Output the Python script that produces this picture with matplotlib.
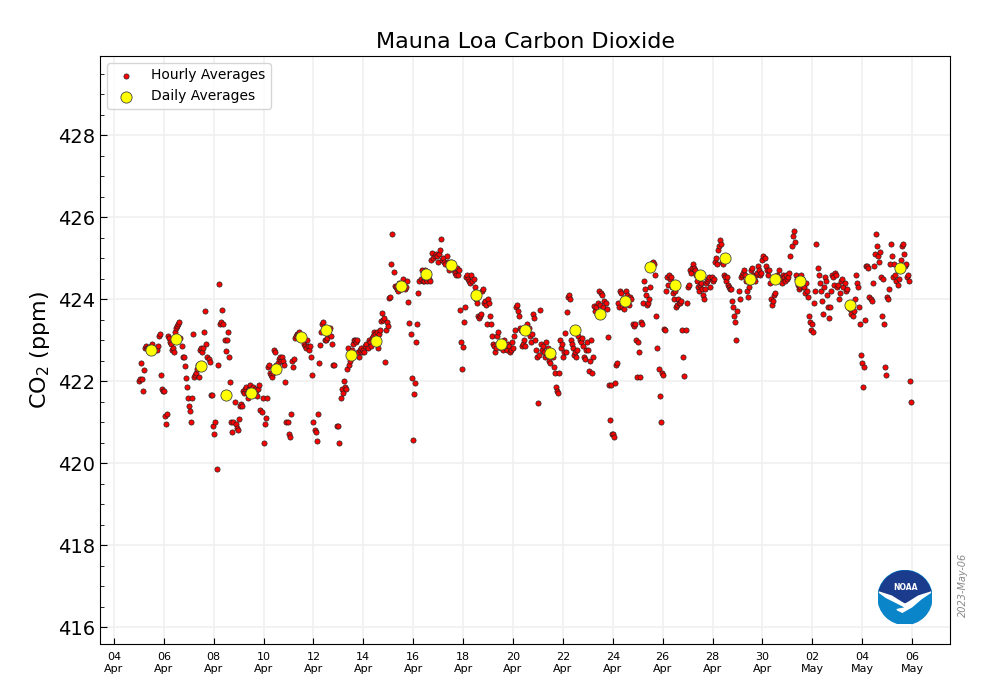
import numpy as np
import matplotlib
matplotlib.use("Agg")
import matplotlib.pyplot as plt
import matplotlib.dates as mdates
from matplotlib.patches import Circle, Polygon
from datetime import datetime, timedelta

nan = np.nan
# ---- Hourly averages (ppm), hour 0..23 of each day ----
apr05 = [422.0, 422.05, 422.44, 422.05, 421.75, 422.27, 422.8, 422.85, 422.8, 422.8, 422.8, 422.8,
         422.85, 422.9, 422.8, 422.75, 422.8, 422.75, 422.85, 423.1, 423.15, 422.15, 421.8, 421.75]
apr06 = [421.75, 421.15, 420.95, 421.2, 423.1, 423.05, 422.95, 422.9, 422.75, 422.8, 422.7, 423.2,
         423.3, 423.35, 423.4, 423.45, 423.05, 422.85, 422.6, 422.6, 422.37, 422.07, 421.85, 421.6]
apr07 = [421.4, 421.27, 421.0, 421.6, 423.15, 422.1, 422.15, 422.2, 422.3, 422.4, 422.1, 422.75,
         422.8, 422.7, 422.8, 423.2, 423.7, 422.9, 422.6, 422.55, 422.46, 421.66, 421.66, 420.9]
apr08 = [420.7, 421.0, nan, 419.85, 422.4, 424.38, 423.4, 423.45, 423.73, 423.4, nan, 423.0,
         422.73, 423.0, 423.2, 422.6, 421.98, 421.0, 420.75, 421.0, 421.5, 420.95, 420.85, 420.8]
apr09 = [421.07, 421.4, 421.45, 421.4, 421.75, 421.7, 421.8, 421.85, 421.7, 421.6, 421.8, 421.9,
         421.75, 421.8, 421.85, 421.75, 421.8, 421.75, 421.65, 421.8, 421.9, 421.3, 421.25, 421.6]
apr10 = [420.48, 420.95, 421.1, 421.6, 422.35, 422.4, 422.2, 422.15, 422.1, 422.2, 422.75, 422.7,
         422.4, 422.3, 422.45, 422.55, 422.6, 422.5, 422.6, 422.5, 422.4, 421.98, 421.0, 421.0]
apr11 = [420.7, 420.65, 421.2, 422.5, 422.35, 422.55, 423.05, 423.1, 423.15, 423.15, 423.2, 423.05,
         423.1, 423.1, 423.0, 422.9, 422.85, 422.8, 423.0, 422.85, 422.75, 422.85, 422.6, 422.15]
apr12 = [421.0, 420.8, 420.75, 420.55, 421.2, 422.44, 422.88, 423.2, 423.4, 423.45, 423.3, 423.0,
         423.0, 423.05, 423.15, 423.25, 423.3, 423.1, 422.9, 422.4, 422.4, nan, nan, 420.9]
apr13 = [420.9, 420.5, 421.6, 421.8, 421.7, 422.0, 421.85, 421.8, 422.3, 422.8, 422.4, 422.5,
         422.6, 422.75, 422.9, 423.0, 423.0, 422.95, 423.0, 422.7, 422.6, 422.75, 422.8, 422.7]
apr14 = [422.75, 422.7, 422.85, 422.9, 422.8, 423.0, 422.95, 422.85, 423.05, 423.1, 423.2, 423.15,
         422.95, 423.2, 422.8, 423.15, 423.25, 423.47, 423.66, 423.5, 423.53, 422.47, 423.25, 423.44]
apr15 = [423.34, 424.02, 424.05, 424.85, 425.58, 424.66, 424.32, 424.3, 424.25, 424.2, 424.4, 424.35,
         424.25, 424.3, 424.5, 424.4, 424.25, 424.3, 424.45, 423.93, 423.41, nan, 423.15, 422.07]
apr16 = [420.56, 421.68, 421.95, 422.95, 423.4, 424.14, 424.45, 424.5, 424.7, 424.45, 424.45, 424.7,
         424.5, 424.45, 424.65, 424.5, 424.45, 424.95, 425.12, 425.0, nan, 425.05, 425.1, 425.05]
apr17 = [424.9, 425.1, 425.2, 425.46, 424.95, 425.0, 424.9, 424.85, 425.05, 424.9, 424.7, 424.8,
         424.9, 424.85, 424.75, 424.7, 424.65, 424.6, 424.75, 424.6, 424.7, 423.73, 422.95, 422.29]
apr18 = [422.83, 423.44, 423.8, 424.55, 424.6, 424.5, 424.45, 424.4, 424.6, 424.45, 424.5, 424.3,
         424.0, 423.9, 423.6, 423.55, 423.6, 423.65, 424.2, 424.25, 423.9, 423.95, 423.85, 423.4]
apr19 = [424.0, 423.9, 423.6, 423.4, 423.1, 422.9, 422.85, 422.7, 422.8, 423.1, 423.2, 422.9,
         422.8, 422.85, 422.75, 423.0, 422.9, 422.8, 422.75, 422.9, 422.85, 422.7, 422.75, 422.95]
apr20 = [422.8, 423.1, 423.25, 423.8, 423.85, 423.7, 423.6, 423.3, 423.25, 422.85, 422.9, 423.0,
         422.85, 423.4, 423.2, 423.3, 423.1, 422.95, 423.15, 423.65, 423.55, 423.0, 422.75, 422.6]
apr21 = [421.46, 422.65, 423.73, 422.9, 422.75, 422.85, 422.7, 422.6, 422.95, 422.65, 422.8, 422.5,
         422.45, 422.7, 422.6, 422.35, 422.2, 421.85, 421.75, 421.7, 422.2, 423.0, 422.8, 422.9]
apr22 = [422.6, 422.7, 423.17, 422.7, 423.68, 424.05, 424.1, 424.0, 423.0, 422.9, 422.8, 422.65,
         422.7, 422.6, 422.75, 423.1, 423.0, 422.95, 423.05, 422.85, 422.6, 422.55, 422.75, 422.95]
apr23 = [422.75, 422.25, 422.5, 423.0, 422.2, 422.6, 423.83, 423.7, 423.8, 423.65, 423.9, 424.2,
         423.85, 424.15, 424.1, 423.8, 423.95, 423.9, 423.75, 423.07, 421.9, 421.05, 421.9, 420.7]
apr24 = [420.7, 420.65, 421.95, 422.4, 422.45, 423.9, 423.8, 424.2, 424.15, 423.8, 424.0, 423.75,
         423.9, 424.2, 424.1, 424.0, 423.85, 424.05, 424.0, 423.4, 423.35, 423.4, 423.0, 422.1]
apr25 = [422.95, 422.7, 422.1, 423.45, 423.4, 423.9, 424.45, 424.25, 424.1, 423.85, 423.9, 424.0,
         424.3, 424.8, 424.88, 424.9, 424.85, 424.6, 423.6, 422.8, 422.3, 421.65, 421.0, 422.2]
apr26 = [422.14, 423.27, 423.25, 424.2, 424.55, 424.35, 424.6, 424.5, 424.55, 424.3, 424.15, 424.0,
         424.2, 423.8, 423.85, 424.0, 423.9, 423.9, 423.95, 423.25, 422.6, 422.12, 423.25, 423.9]
apr27 = [424.3, 424.35, 424.7, 424.65, 424.75, 424.85, 424.75, 424.7, 424.6, 424.45, 424.3, 424.2,
         424.35, 424.4, 424.25, 424.1, 424.0, 424.25, 424.4, 424.45, 424.5, 424.55, 424.3, 424.55]
apr28 = [424.45, 424.5, 424.9, 425.0, 424.85, 425.2, 425.3, 425.45, 425.35, 424.9, 424.85, 424.6,
         424.55, 424.45, 424.55, 424.35, 424.3, 424.25, 424.25, 423.95, 423.8, 423.6, 423.45, 423.0]
apr29 = [423.7, 424.2, 424.0, 424.55, 424.6, 424.65, 424.7, 424.6, 424.45, 424.2, 424.05, 424.3,
         424.5, 424.7, 424.75, 424.6, 424.5, 424.45, 424.6, 424.65, 424.8, 424.7, 424.6, 424.65]
apr30 = [424.95, 425.05, 425.0, 424.8, 424.7, 424.6, 424.7, 424.4, 424.0, 423.85, 423.95, 424.1,
         424.15, 424.5, 424.6, 424.55, 424.7, 424.45, 424.5, 424.4, 424.6, 424.55, 424.45, 424.6]
may01 = [424.5, 424.55, 424.65, 425.05, 425.3, 425.55, 425.65, 425.4, 424.6, 424.5, 424.35, 424.25,
         424.3, 424.6, 424.5, 424.3, 424.3, 424.15, 424.4, 424.2, 424.05, 423.6, 423.45, 423.25]
may02 = [423.4, 423.2, 423.9, 424.2, 425.35, 424.75, 424.6, 424.4, 424.2, 423.95, 423.65, 424.3,
         424.55, 424.45, 424.1, 423.8, 423.55, 423.8, 424.2, 424.6, 424.55, 424.35, 424.65, 424.6]
may03 = [424.3, 424.35, 424.0, 424.15, 424.45, 424.5, 424.3, 424.4, 424.2, 424.25, 423.8, 423.9,
         423.75, 423.65, 423.8, 423.6, 423.7, 424.0, 424.6, 424.4, 424.3, 423.8, 423.4, 422.65]
may04 = [422.45, 421.85, 422.35, 423.5, 424.8, 424.8, 424.75, 424.05, 424.0, 423.95, 424.4, 424.8,
         425.1, 425.6, 425.3, 425.05, 424.9, 425.15, 424.55, 423.6, 424.5, 423.4, 422.35, 422.15]
may05 = [424.05, 424.0, 424.25, 424.85, 425.35, 425.05, 424.55, 424.85, 424.6, 424.45, 424.35, 424.5,
         424.7, 424.95, 425.3, 425.35, 425.1, 424.8, 424.85, 424.55, 424.6, 424.45, 422.0, 421.5]

hourly_days = ["2023-04-05", "2023-04-06", "2023-04-07", "2023-04-08", "2023-04-09", "2023-04-10",
               "2023-04-11", "2023-04-12", "2023-04-13", "2023-04-14", "2023-04-15", "2023-04-16",
               "2023-04-17", "2023-04-18", "2023-04-19", "2023-04-20", "2023-04-21", "2023-04-22",
               "2023-04-23", "2023-04-24", "2023-04-25", "2023-04-26", "2023-04-27", "2023-04-28",
               "2023-04-29", "2023-04-30", "2023-05-01", "2023-05-02", "2023-05-03", "2023-05-04",
               "2023-05-05"]
hourly_values = [apr05, apr06, apr07, apr08, apr09, apr10, apr11, apr12, apr13, apr14, apr15, apr16,
                 apr17, apr18, apr19, apr20, apr21, apr22, apr23, apr24, apr25, apr26, apr27, apr28,
                 apr29, apr30, may01, may02, may03, may04, may05]

# ---- Daily averages (plotted at noon) ----
daily_days = ["2023-04-05", "2023-04-06", "2023-04-07", "2023-04-08", "2023-04-09", "2023-04-10",
              "2023-04-11", "2023-04-12", "2023-04-13", "2023-04-14", "2023-04-15", "2023-04-16",
              "2023-04-17", "2023-04-18", "2023-04-19", "2023-04-20", "2023-04-21", "2023-04-22",
              "2023-04-23", "2023-04-24", "2023-04-25", "2023-04-26", "2023-04-27", "2023-04-28",
              "2023-04-29", "2023-04-30", "2023-05-01", "2023-05-03", "2023-05-05"]
daily_values = [422.76, 423.02, 422.37, 421.66, 421.71, 422.29, 423.07, 423.24, 422.63, 422.98,
                424.32, 424.61, 424.83, 424.10, 422.90, 423.24, 422.68, 423.24, 423.63, 423.95,
                424.78, 424.34, 424.59, 425.00, 424.49, 424.49, 424.44, 423.85, 424.76]

y_ticks = [416, 418, 420, 422, 424, 426, 428]

# ---- build series ----
hx, hy = [], []
for d, vals in zip(hourly_days, hourly_values):
    base = datetime.strptime(d, "%Y-%m-%d")
    for h, v in enumerate(vals):
        if not np.isnan(v):
            hx.append(base + timedelta(hours=h))
            hy.append(v)
dx = [datetime.strptime(d, "%Y-%m-%d") + timedelta(hours=12) for d in daily_days]

fig = plt.figure(figsize=(10, 7), dpi=100)
ax = fig.add_axes([0.10, 0.08, 0.85, 0.84])

ax.scatter(hx, hy, s=14, c="#ff0000", edgecolors="#222222", linewidths=0.5, zorder=3,
           label="Hourly Averages")
ax.scatter(dx, daily_values, s=65, c="#ffff00", edgecolors="#444444", linewidths=0.6, zorder=4,
           label="Daily Averages")

ax.set_xlim(datetime(2023, 4, 3, 10, 34), datetime(2023, 5, 7, 12, 30))
ax.set_ylim(415.59, 429.93)
ax.set_yticks(y_ticks)
ax.yaxis.set_minor_locator(matplotlib.ticker.MultipleLocator(0.5))
xt = [datetime(2023, 4, 4) + timedelta(days=2 * i) for i in range(17)]
ax.set_xticks(xt)
ax.xaxis.set_major_formatter(mdates.DateFormatter("%d\n%b"))
ax.tick_params(axis="x", direction="in", labelsize=8, length=4, pad=6)
ax.tick_params(axis="y", which="major", direction="in", labelsize=14, length=5)
ax.tick_params(axis="y", which="minor", direction="in", length=3)
ax.grid(True, which="major", color="#f0f0f0", linewidth=1.2, zorder=0)
ax.set_axisbelow(True)

ax.set_title("Mauna Loa Carbon Dioxide", fontsize=16)
ax.set_ylabel("CO$_2$ (ppm)", fontsize=16)

leg = ax.legend(loc="upper left", fontsize=10, frameon=True, borderaxespad=0.5)

fig.text(0.963, 0.164, "2023-May-06", rotation=90, ha="center", va="center",
         fontsize=7, color="#888888", style="italic")

# NOAA logo
lax = fig.add_axes([0.878, 0.108, 0.054, 0.0771])
lax.set_xlim(-1, 1)
lax.set_ylim(-1, 1)
lax.set_aspect("equal")
lax.axis("off")
circ = Circle((0, 0), 1.0, color="#0a85c9", zorder=1)
lax.add_patch(circ)
th = np.linspace(np.deg2rad(15), np.deg2rad(165), 60)
top = list(zip(np.cos(th)[::-1] * 1.0, np.sin(th)[::-1] * 1.0))
top_poly = top[::-1] + [(-0.97, 0.2), (-0.5, 0.05), (-0.1, -0.2), (0.0, -0.25), (0.1, -0.2),
                       (0.5, 0.05), (0.97, 0.2)]
dark = Polygon(top_poly, closed=True, color="#1b3b8c", zorder=2)
lax.add_patch(dark)
dark.set_clip_path(circ)
bird = Polygon([(-0.97, 0.2), (-0.5, 0.05), (-0.1, -0.2), (0.0, -0.25), (0.1, -0.2), (0.5, 0.05),
                (0.97, 0.2), (0.6, -0.05), (0.25, -0.35), (-0.1, -0.55), (-0.3, -0.45), (0.05, -0.38),
                (-0.3, -0.2), (-0.7, 0.0)], closed=True, color="white", zorder=3)
lax.add_patch(bird)
bird.set_clip_path(circ)
lax.text(0, 0.35, "NOAA", color="white", fontsize=5.5, fontweight="bold", ha="center", va="center",
         zorder=4)

fig.savefig("out.png", dpi=100)
